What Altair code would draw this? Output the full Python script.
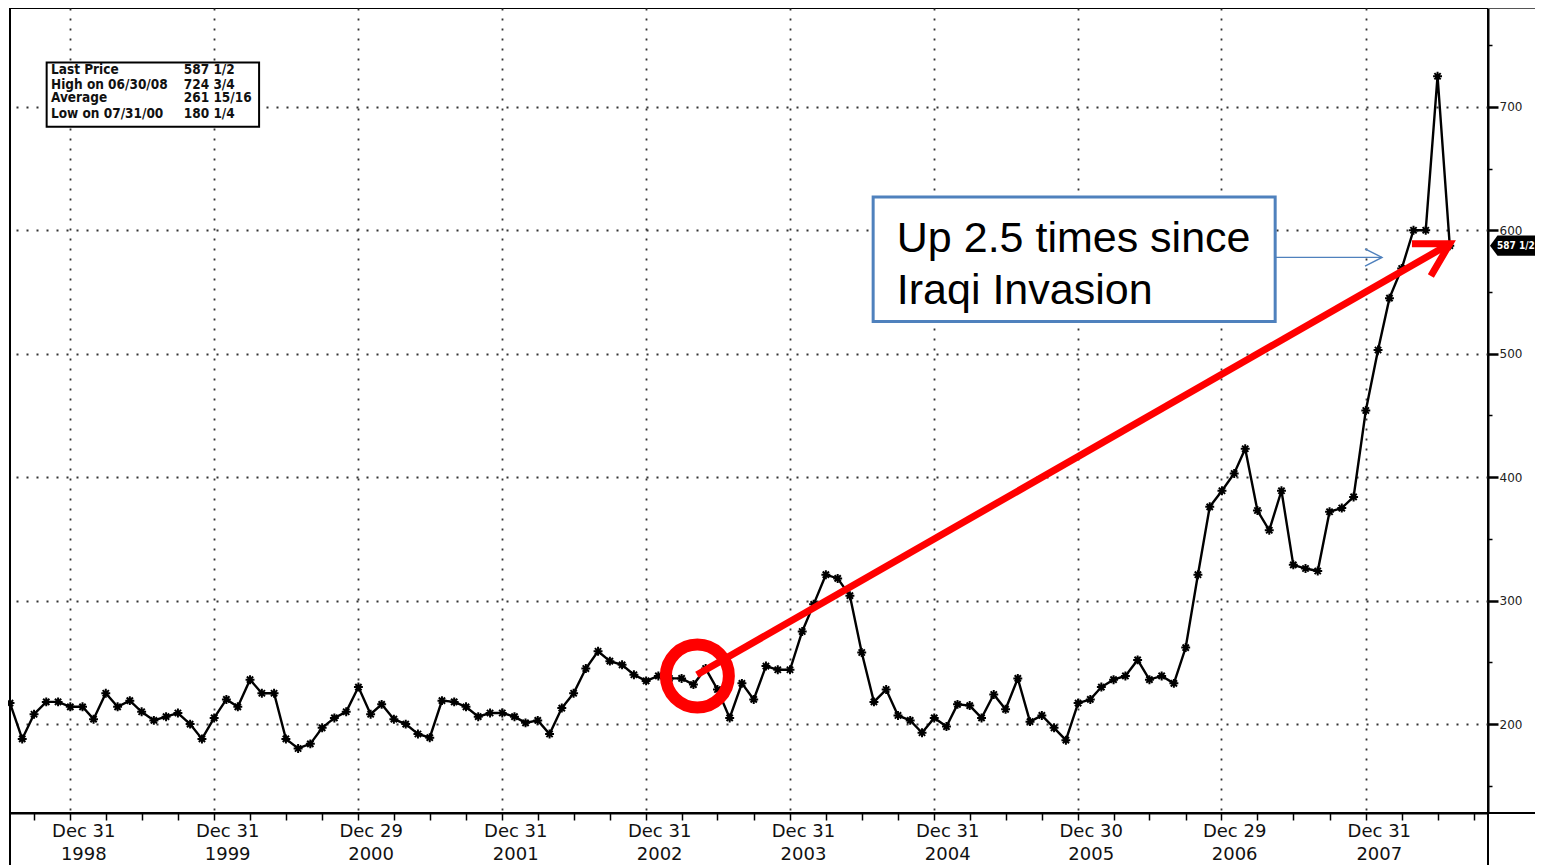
import altair as alt
import pandas as pd

# ---------------- data ----------------
# month-end closes, Jul 1998 .. Jul 2008
first_month = "1998-07-01"
prices = [217, 188, 208, 218, 218, 214, 214, 204, 225, 214, 219, 210,
          203, 206, 209, 200, 188, 205, 220, 214, 236, 225, 225, 188,
          180.25, 184, 197, 205, 210, 230, 208, 216, 204, 200, 192, 189,
          219, 218, 214, 206, 209, 209, 206, 201, 203, 192, 213, 225,
          245, 259, 251, 248, 240, 235, 239, 237, 237, 232, 245, 228,
          205, 233, 220, 247, 244, 244, 275, 297, 321, 318, 304, 258,
          218, 228, 207, 203, 193, 205, 198, 216, 215, 205, 224, 212,
          237, 202, 207, 197, 187, 217, 220, 230, 236, 239, 252, 236,
          239, 233, 262, 321, 376, 389, 403, 423, 373, 357, 389, 329,
          326, 324, 372, 375, 384, 454, 503, 545, 569, 600, 600, 724.75,
          587.5]
month_dates = (pd.date_range(first_month, periods=len(prices), freq="MS")
               + pd.offsets.MonthEnd(0)).strftime("%Y-%m-%d").tolist()

year_end_ticks = ["1998-12-31", "1999-12-31", "2000-12-29", "2001-12-31",
                  "2002-12-31", "2003-12-31", "2004-12-31", "2005-12-30",
                  "2006-12-29", "2007-12-31"]
quarter_ticks = ["1998-09-30"] + [f"{y}-{md}" for y in range(1999, 2009)
                                  for md in ("03-31", "06-30", "09-30")]
y_tick_values = [150, 200, 250, 300, 350, 400, 450, 500, 550, 600, 650, 700, 750]

legend_labels = ["Last Price", "High on 06/30/08", "Average", "Low on 07/31/00"]
legend_values = ["587 1/2", "724 3/4", "261 15/16", "180 1/4"]
legend_rows = [726.7, 714.6, 703.5, 691.3]

note_lines = ["Up 2.5 times since", "Iraqi Invasion"]
last_price_tag = "587 1/2"

# ---------------- helpers ----------------
def dt(s):
    y, m, d = (int(p) for p in s.split("-"))
    return alt.DateTime(year=y, month=m, date=d, utc=True)

W, H = 1478, 805
ASTER = "M-1,0L1,0M0,-1L0,1M-0.7,-0.7L0.7,0.7M-0.7,0.7L0.7,-0.7"
TAG = "M-1,0L-0.75,-0.34L1,-0.34L1,0.34L-0.75,0.34Z"

x_scale = alt.Scale(type="utc", domain=[dt("1998-07-31"), dt("2008-11-05")])
y_scale = alt.Scale(domain=[128, 780], nice=False, zero=False)

x_axis = alt.Axis(
    values=[dt(s) for s in sorted(quarter_ticks + year_end_ticks)],
    tickCount=200,
    labelExpr="utcmonth(datum.value) == 11 ? [utcFormat(datum.value, '%b %d'), utcFormat(datum.value, '%Y')] : ''",
    grid=True,
    gridOpacity={"condition": {"test": "utcmonth(datum.value) == 11", "value": 1}, "value": 0},
    gridDash=[2, 8], gridColor="#333333", gridWidth=1.8,
    tickSize=7, tickWidth=1.5, tickColor="black",
    domainColor="black", domainWidth=2,
    labelFont="DejaVu Sans", labelFontSize=18, labelColor="#111111",
    labelLineHeight=23, labelOffset=13, labelPadding=2,
    labelOverlap=False, labelFlush=False, labelBound=False,
)
hund = "datum.value % 100 == 0"
y_axis = alt.Axis(
    orient="right", values=y_tick_values, tickCount=100,
    labelExpr=f"{hund} ? datum.label : ''",
    grid=True,
    gridOpacity={"condition": {"test": hund, "value": 1}, "value": 0},
    gridDash=[2, 8], gridColor="#333333", gridWidth=1.8,
    tickSize={"condition": {"test": hund, "value": 10}, "value": 4},
    tickWidth={"condition": {"test": hund, "value": 2.5}, "value": 1.5},
    tickColor="black", domainColor="black", domainWidth=2,
    labelFont="DejaVu Sans", labelFontSize=12, labelColor="#222222",
    labelPadding=1, labelOverlap=False, labelFlush=False,
)

X = alt.X("date:T", title=None)
Y = alt.Y("value:Q", title=None)

series = pd.DataFrame({"date": month_dates, "value": prices})

line = alt.Chart(series).mark_line(color="black", strokeWidth=2.4).encode(
    x=alt.X("date:T", title=None, scale=x_scale, axis=x_axis),
    y=alt.Y("value:Q", title=None, scale=y_scale, axis=y_axis),
)
pts = alt.Chart(series).mark_point(shape=ASTER, filled=False, stroke="black",
                                   strokeWidth=2, size=80, opacity=1).encode(x=X, y=Y)

# legend inset (top-left)
leg_box = alt.Chart(pd.DataFrame({"date": ["1998-11-01"], "date2": ["2000-04-23"],
                                  "value": [735.8], "value2": [683.8]})).mark_rect(
    fill="white", stroke="black", strokeWidth=2).encode(
    x=X, x2=alt.X2("date2:T"), y=Y, y2=alt.Y2("value2:Q"))
leg_lab = alt.Chart(pd.DataFrame({"date": ["1998-11-12"] * 4, "value": legend_rows,
                                  "t": legend_labels})).mark_text(
    align="left", baseline="alphabetic", font="DejaVu Sans Condensed", fontSize=13.5,
    fontWeight="bold", color="#111111").encode(x=X, y=Y, text="t:N")
leg_val = alt.Chart(pd.DataFrame({"date": ["1999-10-15"] * 4, "value": legend_rows,
                                  "t": legend_values})).mark_text(
    align="left", baseline="alphabetic", font="DejaVu Sans Condensed", fontSize=13.5,
    fontWeight="bold", color="#111111").encode(x=X, y=Y, text="t:N")

# blue note box
note_box = alt.Chart(pd.DataFrame({"date": ["2004-07-29"], "date2": ["2007-05-15"],
                                   "value": [627], "value2": [526]})).mark_rect(
    fill="white", stroke="#4F81BD", strokeWidth=3).encode(
    x=X, x2=alt.X2("date2:T"), y=Y, y2=alt.Y2("value2:Q"))
note_txt = alt.Chart(pd.DataFrame({"date": ["2004-09-27"] * 2, "value": [582, 540],
                                   "t": note_lines})).mark_text(
    align="left", baseline="alphabetic", font="Liberation Sans", fontSize=43,
    color="black").encode(x=X, y=Y, text="t:N")
blue_line = alt.Chart(pd.DataFrame({"date": ["2007-05-15", "2008-02-10"],
                                    "value": [578, 578]})).mark_line(
    color="#4F81BD", strokeWidth=1.2).encode(x=X, y=Y)
blue_head = alt.Chart(pd.DataFrame({"date": ["2007-12-29", "2008-02-10", "2007-12-29"],
                                    "value": [585, 578, 571], "o": [0, 1, 2]})).mark_line(
    color="#4F81BD", strokeWidth=1.4).encode(x=X, y=Y, order="o:Q")

# red circle and arrow
red_circle = alt.Chart(pd.DataFrame({"date": ["2003-05-10"], "value": [239]})).mark_point(
    shape="circle", filled=False, stroke="#FF0000", strokeWidth=12, size=3969,
    opacity=1).encode(x=X, y=Y)
red_line = alt.Chart(pd.DataFrame({"date": ["2003-05-09", "2008-07-31"],
                                   "value": [240, 589]})).mark_line(
    color="#FF0000", strokeWidth=7).encode(x=X, y=Y)
red_head = alt.Chart(pd.DataFrame({"date": ["2008-04-26", "2008-07-31", "2008-06-13"],
                                   "value": [589, 589, 563], "o": [0, 1, 2]})).mark_line(
    color="#FF0000", strokeWidth=7, strokeJoin="miter").encode(x=X, y=Y, order="o:Q")

# last price tag on the right axis
tag_df = pd.DataFrame({"value": [587.5], "t": [last_price_tag]})
tag_shape = alt.Chart(tag_df).mark_point(shape=TAG, filled=True, fill="black",
                                         strokeWidth=0, size=3600, opacity=1).encode(
    x=alt.value(W + 32), y=Y)
tag_text = alt.Chart(tag_df).mark_text(align="left", baseline="middle", color="white",
                                       font="DejaVu Sans Condensed", fontSize=10,
                                       fontWeight="bold").encode(
    x=alt.value(W + 9), y=Y, text="t:N")

# frame extensions
one = pd.DataFrame({"a": [0]})
ext = [
    alt.Chart(one).mark_rule(color="black", strokeWidth=2).encode(
        x=alt.value(0), y=alt.value(H), y2=alt.value(H + 70)),
    alt.Chart(one).mark_rule(color="black", strokeWidth=2).encode(
        x=alt.value(W), y=alt.value(H), y2=alt.value(H + 70)),
    alt.Chart(one).mark_rule(color="#555555", strokeWidth=2).encode(
        y=alt.value(0), x=alt.value(W), x2=alt.value(W + 70)),
    alt.Chart(one).mark_rule(color="black", strokeWidth=2).encode(
        y=alt.value(H), x=alt.value(W), x2=alt.value(W + 70)),
]

chart = alt.layer(
    line, pts, leg_box, leg_lab, leg_val, note_box, note_txt, blue_line, blue_head,
    red_line, red_head, red_circle, tag_shape, tag_text, *ext
).properties(
    width=W, height=H,
    autosize=alt.AutoSizeParams(type="none"),
    padding={"left": 2, "top": 0, "right": 47, "bottom": 52},
    background="white",
).configure_view(stroke="black", strokeWidth=2)

chart.save("out.html", embed_options={"renderer": "svg", "actions": False})
